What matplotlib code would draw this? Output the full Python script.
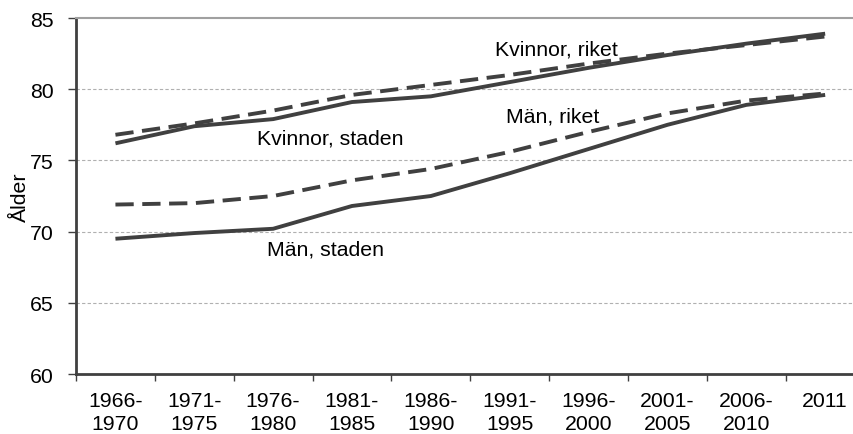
import matplotlib
matplotlib.use('Agg')
import matplotlib.pyplot as plt
import numpy as np

plt.rcParams['font.family'] = ['Liberation Sans', 'DejaVu Sans']

# Periods on the x axis
periods = ['1966-\n1970', '1971-\n1975', '1976-\n1980', '1981-\n1985', '1986-\n1990',
           '1991-\n1995', '1996-\n2000', '2001-\n2005', '2006-\n2010', '2011']

# Life expectancy (Ålder)
kvinnor_staden = [76.2, 77.4, 77.9, 79.1, 79.5, 80.5, 81.5, 82.4, 83.2, 83.9]
kvinnor_riket = [76.8, 77.6, 78.5, 79.6, 80.3, 81.0, 81.8, 82.5, 83.1, 83.7]
man_staden = [69.5, 69.9, 70.2, 71.8, 72.5, 74.1, 75.8, 77.5, 78.9, 79.6]
man_riket = [71.9, 72.0, 72.5, 73.6, 74.4, 75.6, 77.0, 78.3, 79.2, 79.7]

col = '#404040'
fs = 15.3
lw = 2.8

fig = plt.figure(figsize=(8.54, 4.35), dpi=100)
ax = fig.add_axes([0.0890, 0.1379, 0.9234, 0.8184])

x = np.arange(len(periods))
ax.plot(x, kvinnor_staden, color=col, lw=lw, solid_capstyle='butt')
ax.plot(x, kvinnor_riket, color=col, lw=lw, dashes=(4.7, 2.2))
ax.plot(x, man_staden, color=col, lw=lw, solid_capstyle='butt')
ax.plot(x, man_riket, color=col, lw=lw, dashes=(4.7, 2.2))

ax.text(5.59, 82.85, 'Kvinnor, riket', ha='center', va='center', fontsize=fs)
ax.text(5.55, 78.15, 'Män, riket', ha='center', va='center', fontsize=fs)
ax.text(2.72, 76.6, 'Kvinnor, staden', ha='center', va='center', fontsize=fs)
ax.text(2.66, 68.75, 'Män, staden', ha='center', va='center', fontsize=fs)

ax.set_xlim(-0.5, 9.5)
ax.set_ylim(60, 85)
ax.set_yticks([60, 65, 70, 75, 80, 85])
ax.set_xticks(np.arange(-0.5, 10, 1))
ax.set_xticklabels([])
ax.set_xticks(x, minor=True)
ax.set_xticklabels(periods, minor=True, fontsize=fs, linespacing=1.3)
ax.tick_params(axis='x', which='major', length=5, width=1, color=col, direction='out')
ax.tick_params(axis='x', which='minor', length=0, pad=12)
ax.tick_params(axis='y', length=6, width=1, color=col, labelsize=fs, pad=10)

for yv in [65, 70, 75, 80]:
    ax.axhline(yv, color='#b0b0b0', lw=0.8, ls=(0, (3, 2)), zorder=0)

ax.spines['left'].set_color(col)
ax.spines['left'].set_linewidth(2)
ax.spines['bottom'].set_color(col)
ax.spines['bottom'].set_linewidth(2)
ax.spines['top'].set_color('#a0a0a0')
ax.spines['top'].set_linewidth(1.5)
ax.spines['right'].set_visible(False)

ax.set_ylabel('Ålder', fontsize=fs, labelpad=0)

fig.savefig('out.png', dpi=100)
